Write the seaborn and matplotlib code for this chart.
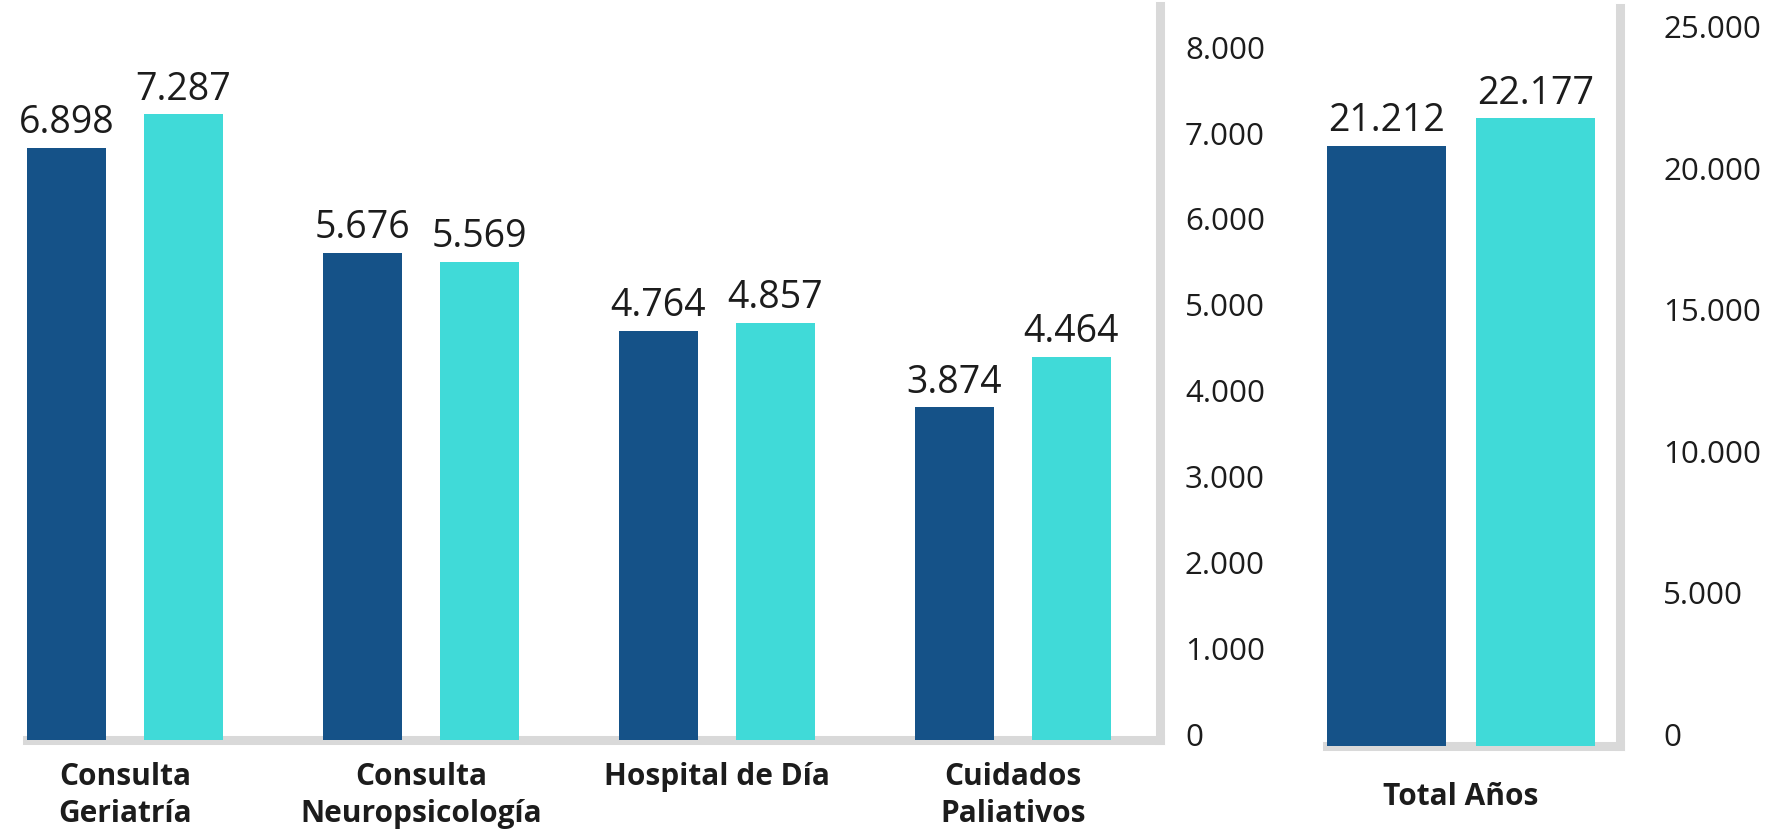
import matplotlib
matplotlib.use("Agg")
import matplotlib.pyplot as plt
import matplotlib.transforms as mtransforms
import seaborn as sbn
import pandas as pd

# -------------------------------------------------------------------------------------------------------
# data
# -------------------------------------------------------------------------------------------------------
categorias = ["Consulta\nGeriatría", "Consulta\nNeuropsicología", "Hospital de Día", "Cuidados\nPaliativos"]
series = ["Año anterior", "Año actual"]
valores_anterior = [6898, 5676, 4764, 3874]
valores_actual = [7287, 5569, 4857, 4464]

total_categoria = ["Total Años"]
total_anterior = [21212]
total_actual = [22177]

ticks_izq = [0, 1000, 2000, 3000, 4000, 5000, 6000, 7000, 8000]
ticks_der = [0, 5000, 10000, 15000, 20000, 25000]

azul = "#155288"
turquesa = "#40dad8"
gris = "#d9d9d9"
texto = "#1c1c1c"

sbn.set_style("white")
plt.rcParams["font.family"] = ["Open Sans", "DejaVu Sans"]


def miles(v):
    return f"{v:,.0f}".replace(",", ".")


df = pd.DataFrame({
    "categoria": categorias * 2,
    "serie": [series[0]] * len(categorias) + [series[1]] * len(categorias),
    "valor": valores_anterior + valores_actual,
})
df_total = pd.DataFrame({
    "categoria": total_categoria * 2,
    "serie": series,
    "valor": total_anterior + total_actual,
})

W, H = 1779, 831
fig = plt.figure(figsize=(W / 100, H / 100), dpi=100)

# left panel (px geometry of the reference)
ax1 = fig.add_axes([27 / W, (H - 740) / H, (1160 - 27) / W, (740 - 6) / H])
# right panel
ax2 = fig.add_axes([1327 / W, (H - 746) / H, (1620 - 1327) / W, (746 - 8) / H])


def estilo(ax, ticks, ylim, pad, subir):
    for s in ["top", "left"]:
        ax.spines[s].set_visible(False)
    for s in ["right", "bottom"]:
        ax.spines[s].set_color(gris)
        ax.spines[s].set_linewidth(6.5)
    ax.yaxis.tick_right()
    ax.set_ylim(ylim)
    ax.set_yticks(ticks)
    ax.set_yticklabels([miles(t) for t in ticks])
    ax.tick_params(axis="y", length=0, pad=pad, labelsize=22.5, labelcolor=texto)
    ax.tick_params(axis="x", length=0, pad=16, labelcolor=texto)
    # labels sit a little higher than the gridline positions in the reference
    off = mtransforms.ScaledTranslation(0, subir / 100, fig.dpi_scale_trans)
    for lab in ax.get_yticklabels():
        lab.set_transform(lab.get_transform() + off)
    for lab in ax.get_xticklabels():
        lab.set_fontweight("bold")
        lab.set_fontsize(21.5)
        lab.set_linespacing(1.3)
    ax.set_xlabel("")
    ax.set_ylabel("")
    for p in ax.patches:
        p.set_zorder(3)
        p.set_linewidth(0)
    for c in ax.containers:
        ax.bar_label(c, labels=[miles(v) for v in c.datavalues], padding=4,
                     fontsize=27, color=texto)


sbn.barplot(data=df, x="categoria", y="valor", hue="serie", palette=[azul, turquesa],
            width=0.79, gap=0.32, saturation=1, legend=False, ax=ax1)
ax1.set_xlim(-0.331, 3.497)
estilo(ax1, ticks_izq, (0, 8550), 18, 6)

sbn.barplot(data=df_total, x="categoria", y="valor", hue="serie", palette=[azul, turquesa],
            width=0.8, gap=0.2, saturation=1, legend=False, ax=ax2)
ax2.set_xlim(-0.36, 0.427)
estilo(ax2, ticks_der, (0, 26080), 31, 12)
ax2.tick_params(axis="x", pad=26)

fig.savefig("out.png", dpi=100)
